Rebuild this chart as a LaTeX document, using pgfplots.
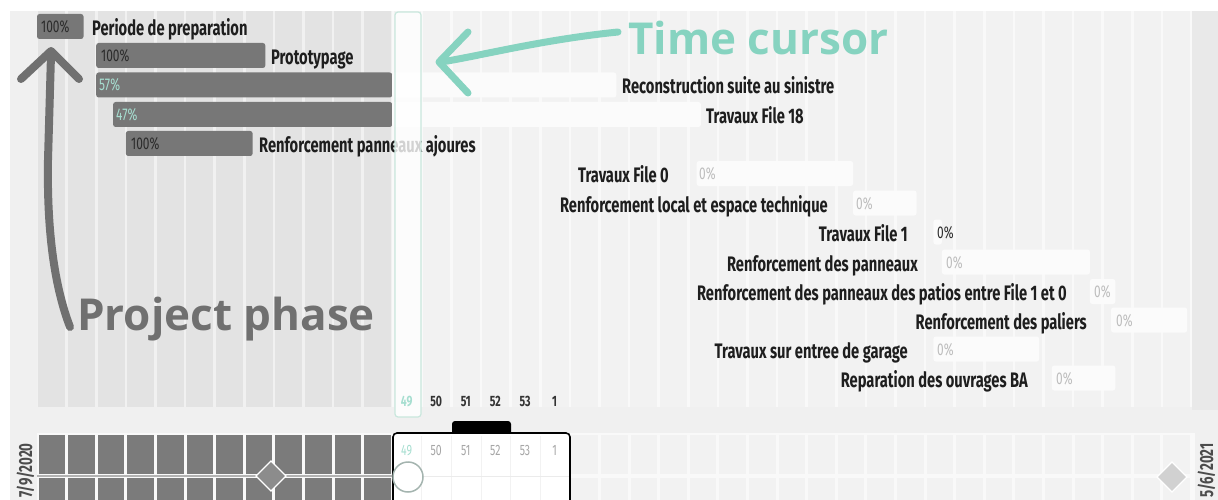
\documentclass[border=0pt]{standalone}
\usepackage{pgfplots}
\pgfplotsset{compat=1.18}
\usepackage{pgfplotstable}
\usepackage{fontspec}
\setmainfont{Fira Sans}
\newfontfamily\cond[FakeStretch=0.7]{Fira Sans}
\newfontfamily\osans{Open Sans}

\definecolor{pagebg}{HTML}{F0F0F0}
\definecolor{leftcol}{HTML}{E3E3E3}
\definecolor{leftgap}{HTML}{F1F1F1}
\definecolor{rightbg}{HTML}{F9F9F9}
\definecolor{rightcol}{HTML}{F2F2F2}
\definecolor{edgebg}{HTML}{E9E9E9}
\definecolor{barDone}{HTML}{777777}
\definecolor{barRest}{HTML}{FBFBFB}
\definecolor{accent}{HTML}{86D3C0}
\definecolor{accentlight}{HTML}{A6DED0}
\definecolor{cursorborder}{HTML}{C9E7DD}
\definecolor{labelc}{HTML}{1E1E1E}
\definecolor{pctdark}{HTML}{2B2B2B}
\definecolor{pctlight}{HTML}{BDBDBD}
\definecolor{annot}{HTML}{707070}
\definecolor{blockdark}{HTML}{7B7B7B}
\definecolor{blocklight}{HTML}{F2F2F2}
\definecolor{weekc}{HTML}{333333}

% task rows: y (pixel row centre), start / done / remaining in days from 7/9/2020
\pgfplotstableread{
y start done rest
26.5 0 11 0
55.5 14 40 0
85 14 70 53
114.5 18 66 73
143.5 21 30 0
173.5 156 0 37
203 193 0 15
232 212 0 2
262 214 0 35
291.5 249 0 6
320 254 0 18
349 212 0 25
378 240 0 15
}\tasks

\pgfplotsset{base/.style={width=1218pt,height=500pt,scale only axis,
 xmin=0,xmax=1218,ymin=0,ymax=500,y dir=reverse,hide axis,clip=false,
 at={(0pt,0pt)},anchor=south west}}

\tikzset{
 lab/.style={font=\cond\bfseries\fontsize{21}{21}\selectfont,text=labelc,inner sep=0pt},
 pct/.style={font=\cond\fontsize{17}{17}\selectfont,inner sep=0pt,anchor=base west},
 wk/.style={font=\cond\bfseries\fontsize{15}{15}\selectfont,text=weekc,inner sep=0pt,anchor=base},
 wkl/.style={font=\cond\fontsize{15}{15}\selectfont,text=black!35,inner sep=0pt,anchor=base},
}

\begin{document}
\begin{tikzpicture}
\begin{axis}[base, xbar stacked, reverse stacked plots=false, bar width=25pt]
% background
\fill[white] (0,0) rectangle (1218,500);
\fill[pagebg] (10,11) rectangle (1218,500);
\fill[leftgap] (37,11) rectangle (392,407);
\pgfplotsinvokeforeach{0,...,11}{\fill[leftcol] ({37+29.6*#1+1.3},11) rectangle ({37+29.6*#1+28.3},407);}
\fill[rightbg] (392,11) rectangle (1192,407);
\pgfplotsinvokeforeach{12,...,38}{\fill[rightcol] ({37+29.6*#1+1.3},11) rectangle ({37+29.6*#1+28.3},407);}
\fill[edgebg] (1192,11) rectangle (1218,410);
% bars
\addplot[draw=none,fill=none] table[x expr=37+4.2286*\thisrow{start},y=y]{\tasks};
\addplot[draw=none,fill=barDone,rounded corners=2.5pt] table[x expr=4.2286*\thisrow{done},y=y]{\tasks};
\addplot[draw=none,fill=barRest,rounded corners=2.5pt] table[x expr=4.2286*\thisrow{rest},y=y]{\tasks};
% task names
\node[lab,anchor=base west] at (92,35.5) {Periode de preparation};
\node[lab,anchor=base west] at (271,64.5) {Prototypage};
\node[lab,anchor=base west] at (622,94) {Reconstruction suite au sinistre};
\node[lab,anchor=base west] at (706,123.5) {Travaux File 18};
\node[lab,anchor=base west] at (259,152.5) {Renforcement panneaux ajoures};
\node[lab,anchor=base east] at (669,182.5) {Travaux File 0};
\node[lab,anchor=base east] at (828,212) {Renforcement local et espace technique};
\node[lab,anchor=base east] at (908,241) {Travaux File 1};
\node[lab,anchor=base east] at (918,271) {Renforcement des panneaux};
\node[lab,anchor=base east] at (1067,300.5) {Renforcement des panneaux des patios entre File 1 et 0};
\node[lab,anchor=base east] at (1087,329) {Renforcement des paliers};
\node[lab,anchor=base east] at (908,358) {Travaux sur entree de garage};
\node[lab,anchor=base east] at (1028,387) {Reparation des ouvrages BA};
% progress
\node[pct,text=pctdark] at (41,32.5) {100\%};
\node[pct,text=pctdark] at (101,61.5) {100\%};
\node[pct,text=accentlight] at (99,91) {57\%};
\node[pct,text=accentlight] at (116,120.5) {47\%};
\node[pct,text=pctdark] at (131,149.5) {100\%};
\node[pct,text=pctlight] at (699,179.5) {0\%};
\node[pct,text=pctlight] at (856,209) {0\%};
\node[pct,text=pctdark] at (937,238) {0\%};
\node[pct,text=pctlight] at (946,268) {0\%};
\node[pct,text=pctlight] at (1094,297.5) {0\%};
\node[pct,text=pctlight] at (1116,326) {0\%};
\node[pct,text=pctlight] at (937,355) {0\%};
\node[pct,text=pctlight] at (1056,384) {0\%};
\end{axis}

\begin{axis}[base]
% time cursor
\draw[cursorborder,line width=1.2pt,fill=white,fill opacity=0.8,rounded corners=3pt] (395,12) rectangle (421,417);
\node[wk,text=accentlight] at (406.6,406) {49};
\node[wk] at (436.2,406) {50};
\node[wk] at (465.8,406) {51};
\node[wk] at (495.4,406) {52};
\node[wk] at (525,406) {53};
\node[wk] at (554.6,406) {1};
% bottom strip
\fill[white!60!pagebg] (37,433) rectangle (1195,500);
\pgfplotsinvokeforeach{0,...,11}{\fill[blockdark] ({37+29.6*#1+1.5},435) rectangle ({37+29.6*#1+28.1},474);
 \fill[blockdark] ({37+29.6*#1+1.5},478) rectangle ({37+29.6*#1+28.1},510);}
\pgfplotsinvokeforeach{18,...,38}{\fill[blocklight] ({37+29.6*#1+1.5},435) rectangle ({37+29.6*#1+28.1},474);
 \fill[blocklight] ({37+29.6*#1+1.5},478) rectangle ({37+29.6*#1+28.1},510);}
\draw[line width=1.2pt,black!30] (37,476) -- (393,476);
\fill[black,rounded corners=3pt] (452,421) rectangle (511,437);
\draw[black,line width=1.6pt,fill=white,rounded corners=4pt] (393,433) rectangle (570,515);
\pgfplotsinvokeforeach{13,...,17}{\draw[black!5,line width=0.8pt] ({37+29.6*#1},436) -- ({37+29.6*#1},500);}
\draw[black!8,line width=0.8pt] (394,476) -- (569,476);
\node[wkl,text=accentlight] at (406.6,455) {49};
\node[wkl] at (436.2,455) {50};
\node[wkl] at (465.8,455) {51};
\node[wkl] at (495.4,455) {52};
\node[wkl] at (525,455) {53};
\node[wkl] at (554.6,455) {1};
\addplot[only marks,mark=square*,mark size=10.6pt,mark options={rotate=45,fill=black!45,draw=white,line width=1.2pt}] coordinates {(271,476)};
\addplot[only marks,mark=square*,mark size=10.6pt,mark options={rotate=45,fill=black!18,draw=white,line width=1.2pt}] coordinates {(1172,477)};
\addplot[only marks,mark=*,mark size=15pt,mark options={fill=white,draw=cursorborder!70!black!80,line width=1.5pt}] coordinates {(408,477)};
\node[rotate=90,anchor=base west,inner sep=0pt,font=\cond\bfseries\fontsize{19}{19}\selectfont,text=black!70] at (32,498) {7/9/2020};
\node[rotate=90,anchor=base west,inner sep=0pt,font=\cond\bfseries\fontsize{19}{19}\selectfont,text=black!70] at (1213,498) {5/6/2021};
% annotations
\draw[accent,line width=7pt,line cap=round] (618,32) .. controls (540,40) and (480,56) .. (441,62);
\draw[accent,line width=7pt,line cap=round,line join=round] (468,32) -- (439,62) -- (468,93);
\node[font=\osans\bfseries\fontsize{44}{44}\selectfont,text=accent,anchor=base west,inner sep=0pt] at (628,55) {Time cursor};
\draw[annot,line width=8pt,line cap=round] (70,327) .. controls (52,280) and (47,220) .. (48,160) -- (51,55);
\draw[annot,line width=8pt,line cap=round,line join=round] (21,79) -- (51,51) -- (79,79);
\node[font=\osans\bfseries\fontsize{44}{44}\selectfont,text=annot,anchor=base west,inner sep=0pt] at (77,330) {Project phase};
\end{axis}
\pgfresetboundingbox
\useasboundingbox (0,0) rectangle (1218pt,500pt);
\end{tikzpicture}
\end{document}
